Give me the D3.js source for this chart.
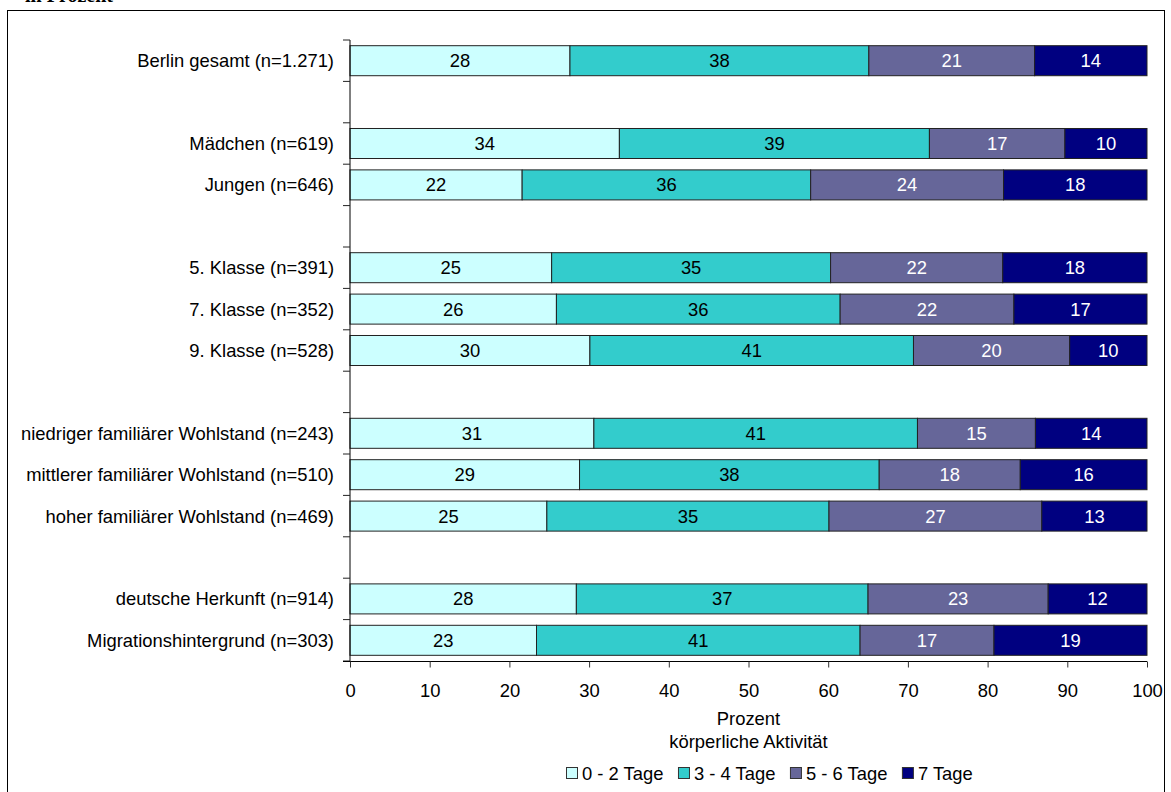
<!DOCTYPE html>
<html>
<head>
<meta charset="utf-8">
<script src="https://cdn.jsdelivr.net/npm/d3@7"></script>
<style>
  html, body { margin: 0; padding: 0; background: #fff; }
  svg { display: block; }
  text { font-family: "Liberation Sans", Arial, sans-serif; }
</style>
</head>
<body>
<svg id="chart" width="1171" height="792"></svg>
<script>
// ---- data ----
const categories = [
  "Berlin gesamt (n=1.271)", "",
  "Mädchen (n=619)", "Jungen (n=646)", "",
  "5. Klasse (n=391)", "7. Klasse (n=352)", "9. Klasse (n=528)", "",
  "niedriger familiärer Wohlstand (n=243)", "mittlerer familiärer Wohlstand (n=510)", "hoher familiärer Wohlstand (n=469)", "",
  "deutsche Herkunft (n=914)", "Migrationshintergrund (n=303)"
];
const seriesNames = ["0 - 2 Tage", "3 - 4 Tage", "5 - 6 Tage", "7 Tage"];
// values per series, aligned with categories (null = spacer row)
const tage0_2 = [27.6, null, 33.8, 21.6, null, 25.3, 25.9, 30.1, null, 30.6, 28.8, 24.7, null, 28.4, 23.4];
const tage3_4 = [37.5, null, 38.9, 36.2, null, 35.0, 35.6, 40.6, null, 40.6, 37.6, 35.4, null, 36.6, 40.6];
const tage5_6 = [20.8, null, 17.0, 24.2, null, 21.6, 21.8, 19.6, null, 14.8, 17.7, 26.7, null, 22.6, 16.8];
const tage7   = [14.1, null, 10.3, 18.0, null, 18.1, 16.7,  9.7, null, 14.0, 15.9, 13.2, null, 12.4, 19.2];
const xTicks = [0, 10, 20, 30, 40, 50, 60, 70, 80, 90, 100];
const axisTitle = ["Prozent", "körperliche Aktivität"];
const topNote = "in Prozent";

// ---- styles ----
const colors = ["#CCFFFF", "#33CCCC", "#666699", "#000080"];
const labelColors = ["#000", "#000", "#fff", "#fff"];
const FS = 18.4;

const svg = d3.select("#chart");

// outer frame
svg.append("rect").attr("x", 7.5).attr("y", 10.5).attr("width", 1157).attr("height", 800)
  .attr("fill", "none").attr("stroke", "#000").attr("stroke-width", 1);
svg.append("text").attr("x", 25).attr("y", 2).text(topNote)
  .attr("font-weight", "bold").attr("font-size", 20)
  .style("font-family", "'Liberation Serif', 'Times New Roman', serif");

const x = d3.scaleLinear().domain([0, 100]).range([350, 1147]);
const y = d3.scaleBand().domain(categories.map((c, i) => i)).range([40, 661])
  .paddingInner(0.275).paddingOuter(0.1375);

const series = [tage0_2, tage3_4, tage5_6, tage7];
const keys = ["s0", "s1", "s2", "s3"];
const rows = categories.map((c, i) => {
  const o = { idx: i, label: c };
  series.forEach((s, k) => o[keys[k]] = s[i]);
  return o;
}).filter(r => r.s0 !== null);

const stacked = d3.stack().keys(keys)(rows);

const g = svg.append("g");
stacked.forEach((layer, k) => {
  const lg = g.append("g");
  lg.selectAll("rect").data(layer).join("rect")
    .attr("x", d => x(d[0]))
    .attr("y", d => y(d.data.idx))
    .attr("width", d => x(d[1]) - x(d[0]))
    .attr("height", y.bandwidth())
    .attr("fill", colors[k])
    .attr("stroke", "#222").attr("stroke-width", 1);
  lg.selectAll("text").data(layer).join("text")
    .attr("x", d => (x(d[0]) + x(d[1])) / 2)
    .attr("y", d => y(d.data.idx) + y.bandwidth() / 2)
    .attr("text-anchor", "middle").attr("dominant-baseline", "central")
    .attr("font-size", FS).attr("fill", labelColors[k])
    .text(d => Math.round(d.data[keys[k]]));
});

// y axis: ticks at slot boundaries
const step = y.step();
const yAxisG = svg.append("g");
yAxisG.append("line").attr("x1", 350).attr("x2", 350).attr("y1", 40).attr("y2", 661)
  .attr("stroke", "#000").attr("stroke-width", 1);
d3.range(categories.length + 1).forEach(i => {
  const yy = 40 + i * step;
  yAxisG.append("line").attr("x1", 343).attr("x2", 350).attr("y1", yy).attr("y2", yy)
    .attr("stroke", "#222").attr("stroke-width", 1);
});
categories.forEach((c, i) => {
  if (!c) return;
  yAxisG.append("text").attr("x", 334).attr("y", y(i) + y.bandwidth() / 2)
    .attr("text-anchor", "end").attr("dominant-baseline", "central")
    .attr("font-size", FS).attr("fill", "#000").text(c);
});

// x axis
const xAxis = d3.axisBottom(x).tickValues(xTicks).tickSize(6).tickPadding(16);
const xg = svg.append("g").attr("transform", "translate(0,661.5)").call(xAxis);
xg.select(".domain").attr("stroke", "#000").attr("d", "M343,0H1147");
xg.selectAll(".tick line").attr("stroke", "#333");
xg.selectAll(".tick text").attr("font-size", FS).attr("fill", "#000")
  .attr("font-family", "'Liberation Sans', Arial, sans-serif");

// axis titles
axisTitle.forEach((t, i) => {
  svg.append("text").attr("x", (x(0) + x(100)) / 2).attr("y", 718 + i * 23)
    .attr("text-anchor", "middle").attr("dominant-baseline", "central")
    .attr("font-size", FS).attr("fill", "#000").text(t);
});

// legend
const lg = svg.append("g");
let lx = 566;
seriesNames.forEach((name, k) => {
  lg.append("rect").attr("x", lx + 0.5).attr("y", 767.5).attr("width", 11).attr("height", 11)
    .attr("fill", colors[k]).attr("stroke", "#333").attr("stroke-width", 1);
  const t = lg.append("text").attr("x", lx + 16).attr("y", 773.5)
    .attr("dominant-baseline", "central").attr("font-size", FS).attr("fill", "#000").text(name);
  lx += 16 + t.node().getComputedTextLength() + 14.5;
});
</script>
</body>
</html>
